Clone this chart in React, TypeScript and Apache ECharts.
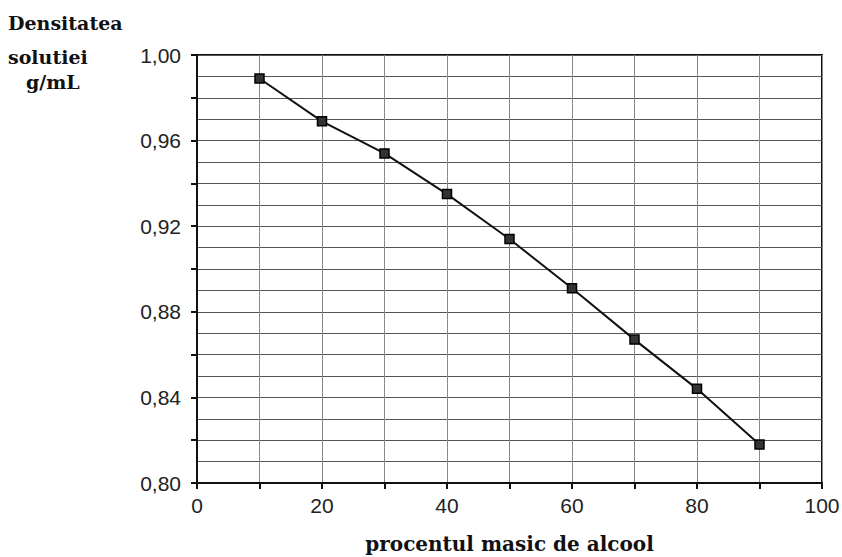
import React, { useEffect, useRef } from "react";
import * as echarts from "echarts";

const percent = [10, 20, 30, 40, 50, 60, 70, 80, 90];
const density = [0.989, 0.969, 0.954, 0.935, 0.914, 0.891, 0.867, 0.844, 0.818];
const yTitleLines = ["Densitatea", "solutiei", "g/mL"];
const xTitle = "procentul masic de alcool";

export default function App() {
  const ref = useRef<HTMLDivElement>(null);
  useEffect(() => {
    if (!ref.current) return;
    const chart = echarts.init(ref.current, null, { renderer: "svg" });
    const titleFont = "bold 19px 'DejaVu Serif'";
    chart.setOption({
      animation: false,
      backgroundColor: "#fff",
      grid: {
        left: 197, right: 20, top: 55, bottom: 74,
        containLabel: false,
        outerBoundsMode: "none",
        show: true, borderColor: "#111", borderWidth: 2, backgroundColor: "transparent",
      },
      xAxis: {
        type: "value",
        min: 0,
        max: 100,
        interval: 10,
        axisLine: { show: true, lineStyle: { color: "#111", width: 2 } },
        axisTick: { show: true, inside: false, length: 6, lineStyle: { color: "#111", width: 2 } },
        axisLabel: {
          margin: 12,
          fontFamily: "Liberation Sans",
          fontSize: 21,
          color: "#222",
          formatter: (v: number) => (Math.round(v) % 20 === 0 ? String(v) : ""),
        },
        splitLine: { show: true, lineStyle: { color: "#888", width: 1 } },
        name: xTitle,
        nameLocation: "middle",
        nameGap: 51,
        nameTextStyle: { fontFamily: "DejaVu Serif", fontWeight: "bold", fontSize: 20, color: "#111", lineHeight: 20 },
      },
      yAxis: {
        type: "value",
        min: 0.8,
        max: 1.0,
        interval: 0.02,
        axisLine: { show: true, lineStyle: { color: "#111", width: 2 } },
        axisTick: { show: true, length: 6, lineStyle: { color: "#111", width: 2 } },
        axisLabel: {
          margin: 16,
          fontFamily: "Liberation Sans",
          fontSize: 21,
          color: "#222",
          formatter: (v: number) => {
            const k = Math.round(v * 100);
            return k % 4 === 0 ? (k / 100).toFixed(2).replace(".", ",") : "";
          },
        },
        splitLine: { show: true, lineStyle: { color: "#555", width: 1 } },
        minorTick: { show: false, splitNumber: 2 },
        minorSplitLine: { show: true, lineStyle: { color: "#555", width: 1 } },
      },
      graphic: [
        { type: "text", left: 8, top: 13, style: { text: yTitleLines[0], font: titleFont, fill: "#111" } },
        { type: "text", left: 8, top: 47, style: { text: yTitleLines[1], font: titleFont, fill: "#111" } },
        { type: "text", left: 26, top: 72, style: { text: yTitleLines[2], font: titleFont, fill: "#111" } },
      ],
      series: [
        {
          type: "line",
          data: percent.map((p, i) => [p, density[i]]),
          symbol: "rect",
          symbolSize: 9,
          lineStyle: { color: "#111", width: 2 },
          itemStyle: { color: "#333", borderColor: "#000", borderWidth: 1.5 },
          smooth: false,
        },
      ],
    });
    return () => chart.dispose();
  }, []);
  return <div ref={ref} style={{ width: 842, height: 557, position: "absolute", left: 0, top: 0 }} />;
}
